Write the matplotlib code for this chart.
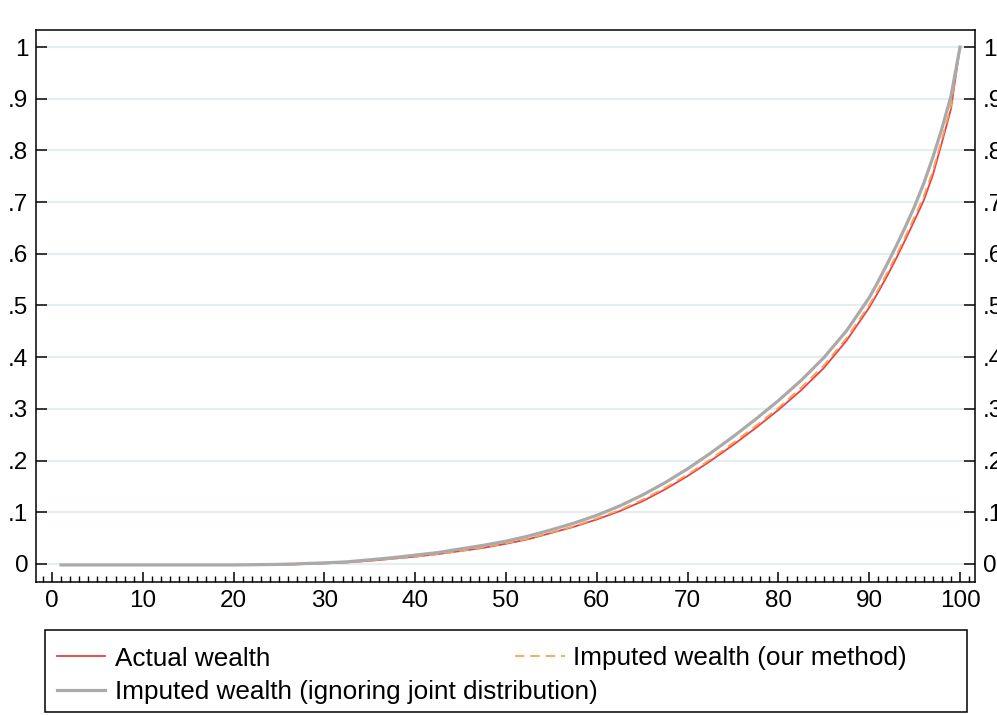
import matplotlib
matplotlib.use("Agg")
import matplotlib.pyplot as plt
from matplotlib.lines import Line2D
from matplotlib.patches import Rectangle
from matplotlib.ticker import MultipleLocator, FixedLocator

plt.rcParams['font.family'] = ['Liberation Sans', 'DejaVu Sans']

# Lorenz curves: cumulative wealth share by percentile
pct = [1, 5, 10, 15, 20, 25, 30, 32.5, 35, 37.5, 40, 42.5, 45, 47.5, 50, 52.5,
       55, 57.5, 60, 62.5, 65, 67.5, 70, 72.5, 75, 77.5, 80, 82.5, 85, 87.5,
       90, 91, 92, 93, 94, 95, 96, 97, 98, 99, 100]

actual = [-0.002, -0.002, -0.002, -0.002, -0.002, -0.002, 0.001, 0.003, 0.006,
          0.010, 0.014, 0.019, 0.025, 0.031, 0.039, 0.048, 0.060, 0.072,
          0.086, 0.102, 0.121, 0.144, 0.170, 0.199, 0.230, 0.263, 0.298,
          0.336, 0.379, 0.432, 0.496, 0.526, 0.558, 0.592, 0.628, 0.665,
          0.703, 0.752, 0.815, 0.880, 1.000]

imputed_ours = [-0.002, -0.002, -0.002, -0.002, -0.002, -0.002, 0.001, 0.003,
                0.006, 0.010, 0.014, 0.019, 0.025, 0.032, 0.040, 0.049, 0.061,
                0.073, 0.088, 0.104, 0.124, 0.147, 0.173, 0.202, 0.234, 0.267,
                0.302, 0.341, 0.384, 0.437, 0.501, 0.531, 0.564, 0.598, 0.634,
                0.672, 0.711, 0.760, 0.822, 0.886, 1.000]

imputed_naive = [-0.002, -0.002, -0.002, -0.002, -0.002, -0.001, 0.002, 0.004,
                 0.008, 0.012, 0.017, 0.022, 0.029, 0.036, 0.044, 0.054, 0.066,
                 0.079, 0.094, 0.112, 0.133, 0.157, 0.184, 0.214, 0.246, 0.280,
                 0.316, 0.355, 0.399, 0.451, 0.515, 0.547, 0.581, 0.616, 0.653,
                 0.692, 0.736, 0.786, 0.842, 0.905, 1.000]

labels = ["Actual wealth", "Imputed wealth (our method)",
          "Imputed wealth (ignoring joint distribution)"]

x_ticks = list(range(0, 101, 10))
y_ticks = [0, 0.1, 0.2, 0.3, 0.4, 0.5, 0.6, 0.7, 0.8, 0.9, 1.0]
y_tick_labels = ["0", ".1", ".2", ".3", ".4", ".5", ".6", ".7", ".8", ".9", "1"]

RED = "#e8403f"
ORANGE = "#f9a05a"
GRAY = "#aaaaaa"
GRID = "#e4eef1"

W, H = 997, 715
fig = plt.figure(figsize=(W / 100, H / 100), dpi=100)
fig.patch.set_facecolor("white")

ax = fig.add_axes([36 / W, 1 - 582 / H, (975 - 36) / W, (582 - 30) / H])
ax.set_xlim(-1.76, 101.65)
ax.set_ylim(-0.035, 1.033)

# horizontal grid, stopping at the inward tick marks
for yv in y_ticks:
    ax.axhline(yv, xmin=0.012, xmax=0.988, color=GRID, lw=1.6, zorder=0)

dash = (0, (5.2, 3.3))
ax.plot(pct, actual, color=RED, lw=1.3, zorder=3, solid_joinstyle="round")
ax.plot(pct, imputed_ours, color=ORANGE, lw=1.3, linestyle=dash, zorder=4)
ax.plot(pct, imputed_naive, color=GRAY, lw=2.3, zorder=5,
        solid_joinstyle="round")

for s in ax.spines.values():
    s.set_linewidth(1.1)
    s.set_color("black")

ax.xaxis.set_major_locator(FixedLocator(x_ticks))
ax.xaxis.set_minor_locator(MultipleLocator(1))
ax.set_xticklabels([str(v) for v in x_ticks])
ax.set_yticks(y_ticks)
ax.set_yticklabels(y_tick_labels)

ax.tick_params(axis="x", which="major", direction="in", length=7.2, width=1.1,
               labelsize=17.5, pad=6, top=False)
ax.tick_params(axis="x", which="minor", direction="in", length=4.3, width=1.0,
               top=False)
ax.tick_params(axis="y", which="major", direction="in", length=7.6, width=1.1,
               labelsize=17.5, pad=5.5, left=True, right=True,
               labelleft=True, labelright=True)
ax.tick_params(axis="y", which="minor", left=False, right=False)

# legend box below the plot
fx = lambda px: px / W
fy = lambda py: 1 - py / H
fig.add_artist(Rectangle((fx(45), fy(712)), fx(967) - fx(45), fy(630) - fy(712),
                         transform=fig.transFigure, fill=False, lw=1.1,
                         edgecolor="black"))
fig.add_artist(Line2D([fx(57), fx(105)], [fy(656), fy(656)], color=RED, lw=1.3,
                      transform=fig.transFigure))
fig.add_artist(Line2D([fx(515), fx(565)], [fy(656), fy(656)], color=ORANGE,
                      lw=1.3, linestyle=dash, transform=fig.transFigure))
fig.add_artist(Line2D([fx(57), fx(105)], [fy(690), fy(690)], color=GRAY, lw=2.3,
                      transform=fig.transFigure))
fig.text(fx(115), fy(656), labels[0], fontsize=18.8, va="center_baseline")
fig.text(fx(573), fy(656), labels[1], fontsize=18.8, va="center_baseline")
fig.text(fx(115), fy(690), labels[2], fontsize=18.8, va="center_baseline")

fig.savefig("out.png", dpi=100)
